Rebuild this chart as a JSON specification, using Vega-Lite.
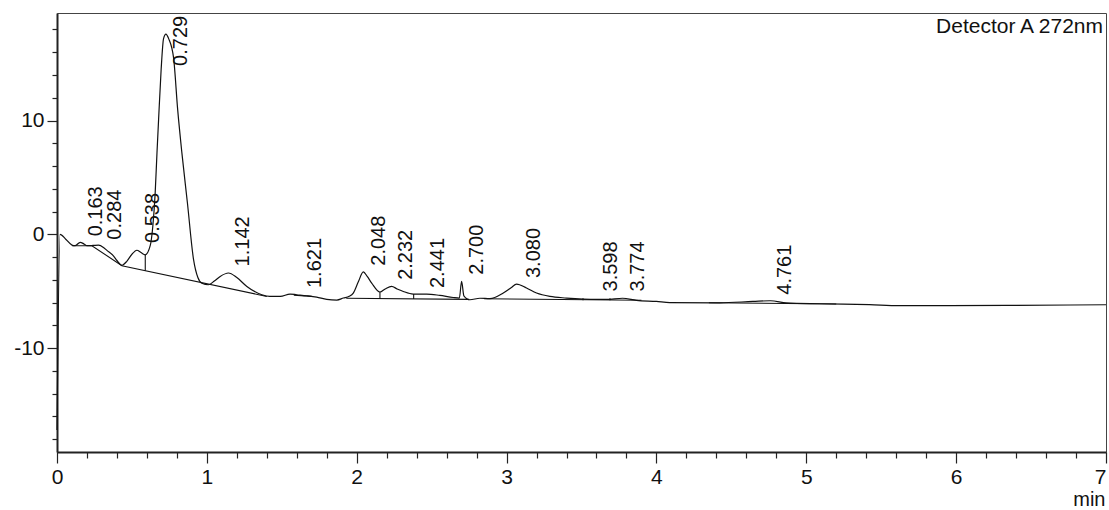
{
  "$schema": "https://vega.github.io/schema/vega-lite/v6.json",
  "autosize": {"type": "none"},
  "padding": {"left": 57, "top": 13, "right": 3, "bottom": 58},
  "width": 1049,
  "height": 439,
  "background": "white",
  "config": {
    "view": {"stroke": "#444", "strokeWidth": 1},
    "font": "Liberation Sans",
    "text": {"font": "Liberation Sans", "color": "#111"}
  },
  "datasets": {
    "signal": [
      {"t":0,"v":-17.2},{"t":0.02,"v":0},{"t":0.06,"v":-0.45},{"t":0.1,"v":-0.95},{"t":0.12,"v":-1.0},{"t":0.155,"v":-0.7},{"t":0.18,"v":-0.85},{"t":0.2,"v":-1.0},{"t":0.24,"v":-0.98},{"t":0.277,"v":-0.95},{"t":0.31,"v":-1.15},{"t":0.333,"v":-1.41},{"t":0.375,"v":-1.88},{"t":0.4,"v":-2.3},{"t":0.433,"v":-2.72},{"t":0.467,"v":-2.35},{"t":0.5,"v":-1.75},{"t":0.533,"v":-1.4},{"t":0.56,"v":-1.6},{"t":0.589,"v":-1.8},{"t":0.622,"v":-1.0},{"t":0.64,"v":0.8},{"t":0.655,"v":3.6},{"t":0.667,"v":7.1},{"t":0.678,"v":10.1},{"t":0.695,"v":14.5},{"t":0.711,"v":17.2},{"t":0.727,"v":17.6},{"t":0.745,"v":17.2},{"t":0.778,"v":15.5},{"t":0.805,"v":11.0},{"t":0.833,"v":7.2},{"t":0.87,"v":2.8},{"t":0.911,"v":-2.2},{"t":0.94,"v":-3.8},{"t":0.967,"v":-4.3},{"t":1.01,"v":-4.43},{"t":1.05,"v":-4.1},{"t":1.089,"v":-3.7},{"t":1.144,"v":-3.4},{"t":1.2,"v":-3.8},{"t":1.267,"v":-4.58},{"t":1.367,"v":-5.31},{"t":1.42,"v":-5.46},{"t":1.49,"v":-5.46},{"t":1.555,"v":-5.25},{"t":1.6,"v":-5.31},{"t":1.667,"v":-5.4},{"t":1.733,"v":-5.52},{"t":1.8,"v":-5.72},{"t":1.867,"v":-5.78},{"t":1.911,"v":-5.6},{"t":1.95,"v":-5.45},{"t":1.977,"v":-5.16},{"t":2.01,"v":-4.2},{"t":2.044,"v":-3.3},{"t":2.07,"v":-3.7},{"t":2.1,"v":-4.28},{"t":2.155,"v":-5.07},{"t":2.19,"v":-4.8},{"t":2.233,"v":-4.58},{"t":2.27,"v":-4.8},{"t":2.311,"v":-5.02},{"t":2.377,"v":-5.25},{"t":2.467,"v":-5.25},{"t":2.555,"v":-5.37},{"t":2.644,"v":-5.55},{"t":2.685,"v":-5.6},{"t":2.7,"v":-4.14},{"t":2.715,"v":-5.4},{"t":2.755,"v":-5.75},{"t":2.822,"v":-5.62},{"t":2.889,"v":-5.65},{"t":2.978,"v":-5.16},{"t":3.03,"v":-4.7},{"t":3.067,"v":-4.37},{"t":3.133,"v":-4.72},{"t":3.2,"v":-5.16},{"t":3.289,"v":-5.46},{"t":3.4,"v":-5.6},{"t":3.511,"v":-5.69},{"t":3.598,"v":-5.72},{"t":3.667,"v":-5.72},{"t":3.774,"v":-5.62},{"t":3.867,"v":-5.8},{"t":4.0,"v":-5.9},{"t":4.089,"v":-6.0},{"t":4.422,"v":-6.02},{"t":4.644,"v":-5.9},{"t":4.761,"v":-5.84},{"t":4.867,"v":-6.02},{"t":5.089,"v":-6.1},{"t":5.422,"v":-6.18},{"t":5.62,"v":-6.26},{"t":5.955,"v":-6.26},{"t":6.4,"v":-6.24},{"t":7.0,"v":-6.19}
    ],
    "baseline": [
      {"seg":1,"t":0.1,"v":-1.0},{"seg":1,"t":0.233,"v":-1.0},{"seg":1,"t":0.433,"v":-2.76},{"seg":1,"t":1.4,"v":-5.46},
      {"seg":2,"t":1.58,"v":-5.35},{"seg":2,"t":1.7,"v":-5.45},
      {"seg":3,"t":1.93,"v":-5.62},{"seg":3,"t":2.75,"v":-5.72},
      {"seg":4,"t":2.85,"v":-5.66},{"seg":4,"t":3.9,"v":-5.8},
      {"seg":5,"t":4.35,"v":-6.02},{"seg":5,"t":5.2,"v":-6.12}
    ],
    "drops": [
      {"t":0.589,"v":-1.8,"v2":-3.2},
      {"t":2.155,"v":-5.07,"v2":-5.68},
      {"t":2.38,"v":-5.25,"v2":-5.69},
      {"t":3.51,"v":-5.62,"v2":-5.8},
      {"t":3.69,"v":-5.62,"v2":-5.8}
    ],
    "peaks": [
      {"t":0.163,"lab":"0.163","v":-0.18},
      {"t":0.284,"lab":"0.284","v":-0.47},
      {"t":0.538,"lab":"0.538","v":-0.76},
      {"t":0.729,"lab":"0.729","v":14.8},
      {"t":1.142,"lab":"1.142","v":-2.82},
      {"t":1.621,"lab":"1.621","v":-4.72},
      {"t":2.048,"lab":"2.048","v":-2.76},
      {"t":2.232,"lab":"2.232","v":-4.0},
      {"t":2.441,"lab":"2.441","v":-4.72},
      {"t":2.7,"lab":"2.700","v":-3.55},
      {"t":3.08,"lab":"3.080","v":-3.84},
      {"t":3.598,"lab":"3.598","v":-5.02},
      {"t":3.774,"lab":"3.774","v":-5.02},
      {"t":4.761,"lab":"4.761","v":-5.31}
    ],
    "detector": [{"t":7,"v":19.45,"lab":"Detector A 272nm"}]
  },
  "encoding": {
    "x": {
      "field": "t", "type": "quantitative",
      "scale": {"domain": [0, 7], "nice": false, "zero": false},
      "axis": {
        "values": [0,0.2,0.4,0.6,0.8,1,1.2,1.4,1.6,1.8,2,2.2,2.4,2.6,2.8,3,3.2,3.4,3.6,3.8,4,4.2,4.4,4.6,4.8,5,5.2,5.4,5.6,5.8,6,6.2,6.4,6.6,6.8,7],
        "tickSize": {"condition": {"test": "datum.value % 1 === 0", "value": 11}, "value": 6},
        "labelExpr": "datum.value % 1 === 0 ? toString(datum.value) : ''",
        "labelAlign": {"condition": {"test": "datum.value === 7", "value": "right"}, "value": "center"},
        "labelFlush": false, "labelOverlap": false, "grid": false,
        "labelFont": "Liberation Sans", "labelFontSize": 21, "labelColor": "#111", "labelPadding": 3,
        "domainColor": "#222", "domainWidth": 2, "tickColor": "#222", "tickWidth": 1.2,
        "title": "min", "titleFont": "Liberation Sans", "titleFontSize": 20, "titleFontWeight": "normal", "titleColor": "#111",
        "titleX": 1048, "titleY": 53, "titleAlign": "right", "titleBaseline": "alphabetic", "titleAngle": 0
      }
    },
    "y": {
      "field": "v", "type": "quantitative",
      "scale": {"domain": [-19.13, 19.45], "nice": false, "zero": false},
      "axis": {
        "values": [-18,-16,-14,-12,-10,-8,-6,-4,-2,0,2,4,6,8,10,12,14,16,18],
        "tickSize": {"condition": {"test": "datum.value % 10 === 0", "value": 10}, "value": 5},
        "labelExpr": "datum.value % 10 === 0 ? toString(datum.value) : ''",
        "labelOverlap": false, "grid": false,
        "labelFont": "Liberation Sans", "labelFontSize": 21, "labelColor": "#111", "labelPadding": 3,
        "domainColor": "#222", "domainWidth": 2, "tickColor": "#222", "tickWidth": 1.2,
        "title": null
      }
    }
  },
  "layer": [
    {
      "data": {"name": "baseline"},
      "mark": {"type": "line", "color": "#111", "strokeWidth": 1.1},
      "encoding": {"detail": {"field": "seg", "type": "nominal"}}
    },
    {
      "data": {"name": "drops"},
      "mark": {"type": "rule", "color": "#111", "strokeWidth": 1.1},
      "encoding": {"y2": {"field": "v2"}}
    },
    {
      "data": {"name": "signal"},
      "mark": {"type": "line", "color": "#111", "strokeWidth": 1.2, "interpolate": "monotone"}
    },
    {
      "data": {"name": "peaks"},
      "mark": {"type": "text", "angle": -90, "align": "left", "baseline": "middle", "dy": 15, "fontSize": 20, "font": "Liberation Sans", "color": "#111"},
      "encoding": {"text": {"field": "lab"}}
    },
    {
      "data": {"name": "detector"},
      "mark": {"type": "text", "align": "right", "baseline": "top", "dx": -3, "dy": 3, "fontSize": 21, "font": "Liberation Sans", "color": "#111"},
      "encoding": {"text": {"field": "lab"}}
    }
  ]
}
